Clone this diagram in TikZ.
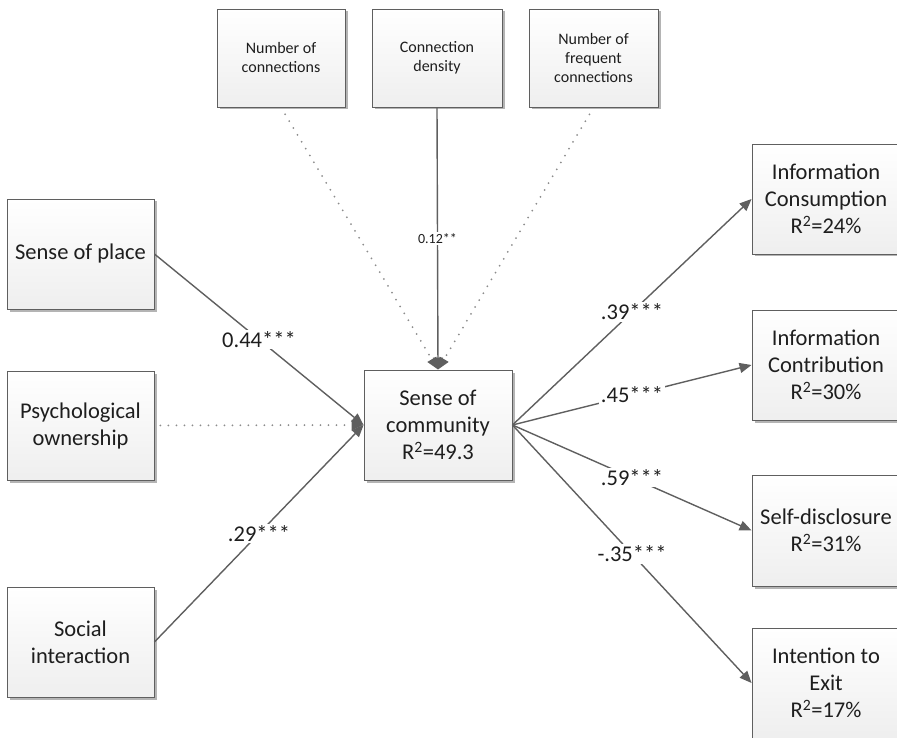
\documentclass[tikz,border=0pt]{standalone}
\usepackage{fontspec}
\setmainfont{Carlito}
\usetikzlibrary{arrows.meta,shadows}
\definecolor{linec}{RGB}{95,95,95}
\definecolor{dotc}{RGB}{140,140,140}
\definecolor{txtc}{RGB}{30,30,30}
\tikzset{
  box/.style={draw=linec, line width=0.9pt, top color=white, bottom color=gray!13,
    drop shadow={shadow xshift=2.5pt, shadow yshift=-2.5pt, fill=gray!65, opacity=0.9},
    align=center, inner sep=2pt, text=txtc, font=\fontsize{22.5}{27}\selectfont},
  smallbox/.style={box, font=\fontsize{16}{19}\selectfont},
  conn/.style={draw=linec, line width=1.4pt, -{Triangle[length=12pt,width=10pt]}},
  dotconn/.style={draw=dotc, line width=2pt, dash pattern=on 0pt off 8pt, line cap=round,
    -{Triangle[length=12pt,width=10pt,color=linec]}},
  lbl/.style={fill=white, inner sep=1.5pt, text=txtc, font=\fontsize{22.5}{25}\selectfont},
  smalllbl/.style={fill=white, inner sep=1.5pt, text=txtc, font=\fontsize{14}{16}\selectfont}
}
\begin{document}
\begin{tikzpicture}[x=1pt,y=-1pt]
\useasboundingbox (0,0) rectangle (897,738);
% top boxes
\node[smallbox, minimum width=128pt, minimum height=98pt] (noc) at (281,58) {Number of\\connections};
\node[smallbox, minimum width=130pt, minimum height=98pt] (cd) at (437,58) {Connection\\density};
\node[smallbox, minimum width=129pt, minimum height=98pt] (nfc) at (593.5,58) {Number of\\frequent\\connections};
% left boxes
\node[box, minimum width=147pt, minimum height=110pt] (sop) at (80.5,254) {Sense of place};
\node[box, minimum width=147pt, minimum height=109pt] (po) at (80.5,425.5) {Psychological\\ownership};
\node[box, minimum width=147pt, minimum height=110pt] (si) at (80.5,642) {Social\\interaction};
% center
\node[box, minimum width=148pt, minimum height=110pt] (soc) at (438,425) {Sense of\\community\\R\textsuperscript{2}=49.3};
% right boxes
\node[box, minimum width=148pt, minimum height=110pt] (ic) at (826,199) {Information\\Consumption\\R\textsuperscript{2}=24\%};
\node[box, minimum width=148pt, minimum height=110pt] (icon) at (826,365) {Information\\Contribution\\R\textsuperscript{2}=30\%};
\node[box, minimum width=148pt, minimum height=111pt] (sd) at (826,530.5) {Self-disclosure\\R\textsuperscript{2}=31\%};
\node[box, minimum width=148pt, minimum height=110pt] (ite) at (826,683) {Intention to\\Exit\\R\textsuperscript{2}=17\%};
% connectors
\draw[dotconn, shorten <=8pt] (noc.south) -- (soc.north);
\draw[dotconn, shorten <=8pt] (nfc.south) -- (soc.north);
\draw[conn] (cd.south) -- (soc.north) node[smalllbl, pos=0.5] {0.12**};
\draw[conn] (sop.east) -- (soc.west) node[lbl, pos=0.5] {0.44***};
\draw[dotconn, shorten <=6pt] (po.east) -- (soc.west);
\draw[conn] (si.east) -- (soc.west) node[lbl, pos=0.5] {.29***};
\draw[conn] (soc.east) -- (ic.west) node[lbl, pos=0.5] {.39***};
\draw[conn] (soc.east) -- (icon.west) node[lbl, pos=0.5] {.45***};
\draw[conn] (soc.east) -- (sd.west) node[lbl, pos=0.5] {.59***};
\draw[conn] (soc.east) -- (ite.west) node[lbl, pos=0.5] {-.35***};
\end{tikzpicture}
\end{document}
